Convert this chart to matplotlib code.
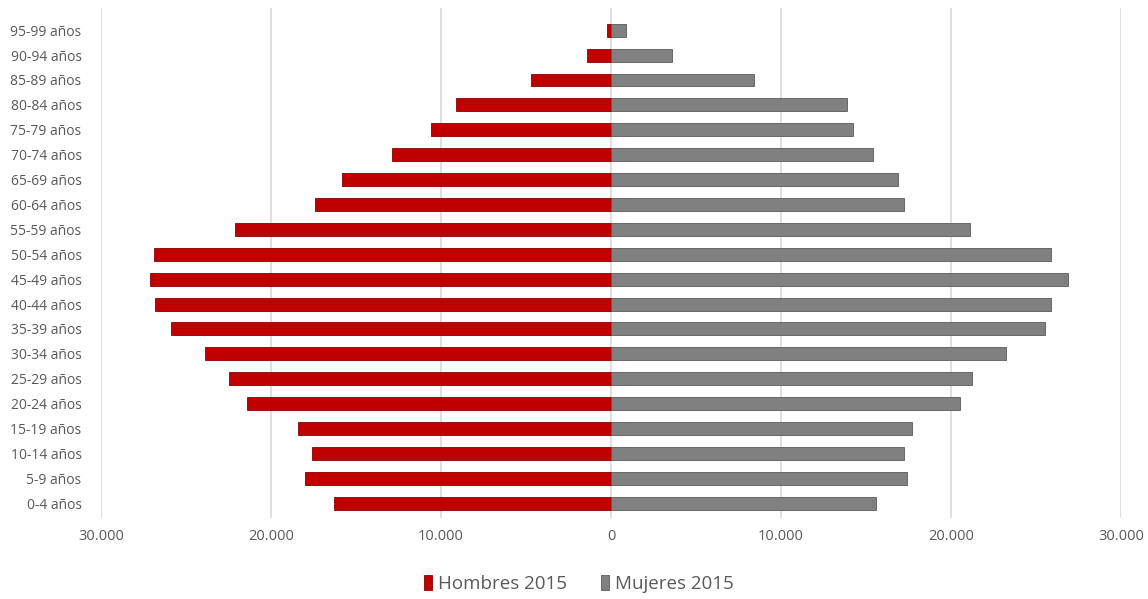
import matplotlib.pyplot as plt
from matplotlib.ticker import FuncFormatter

plt.rcParams['font.family'] = ['Open Sans', 'DejaVu Sans']

# grupos de edad (de abajo hacia arriba)
grupos = ['0-4 años', '5-9 años', '10-14 años', '15-19 años', '20-24 años',
          '25-29 años', '30-34 años', '35-39 años', '40-44 años', '45-49 años',
          '50-54 años', '55-59 años', '60-64 años', '65-69 años', '70-74 años',
          '75-79 años', '80-84 años', '85-89 años', '90-94 años', '95-99 años']

hombres_2015 = [16300, 18000, 17600, 18400, 21400, 22500, 23900, 25900, 26800, 27100,
                26900, 22100, 17400, 15800, 12900, 10600, 9100, 4700, 1400, 250]
mujeres_2015 = [15600, 17400, 17200, 17700, 20500, 21200, 23200, 25500, 25900, 26900,
                25900, 21100, 17200, 16900, 15400, 14200, 13900, 8400, 3600, 900]

x_ticks = [-30000, -20000, -10000, 0, 10000, 20000, 30000]

rojo = '#C00000'
gris = '#808080'
texto = '#595959'

fig = plt.figure(figsize=(11.48, 5.99), dpi=100)
ax = fig.add_axes([0.0880, 0.135, 0.8886, 0.852])

pos = range(len(grupos))
ax.barh(pos, [-v for v in hombres_2015], height=0.52, color=rojo,
        edgecolor='#8B0000', linewidth=0.6, label='Hombres 2015', zorder=3)
ax.barh(pos, mujeres_2015, height=0.52, color=gris,
        edgecolor='#5A5A5A', linewidth=0.6, label='Mujeres 2015', zorder=3)

ax.set_xlim(-30000, 30000)
ax.set_ylim(-0.6, 19.9)
ax.set_xticks(x_ticks)
ax.xaxis.set_major_formatter(FuncFormatter(lambda v, p: f'{abs(int(v)):,}'.replace(',', '.')))
ax.set_yticks(list(pos))
ax.set_yticklabels(grupos)

ax.grid(axis='x', color='#D9D9D9', linewidth=1.2, zorder=0)
for s in ax.spines.values():
    s.set_visible(False)
ax.tick_params(axis='both', length=0, colors=texto, labelsize=10)
ax.tick_params(axis='x', pad=8, labelsize=10.5)
ax.tick_params(axis='y', pad=14)

leg = fig.legend(loc='center', bbox_to_anchor=(0.504, 0.025), ncol=2, frameon=False,
                 fontsize=13.5, handlelength=0.45, handleheight=0.9, handletextpad=0.3,
                 columnspacing=1.8)
for t in leg.get_texts():
    t.set_color(texto)

plt.savefig('out.png', dpi=100)
